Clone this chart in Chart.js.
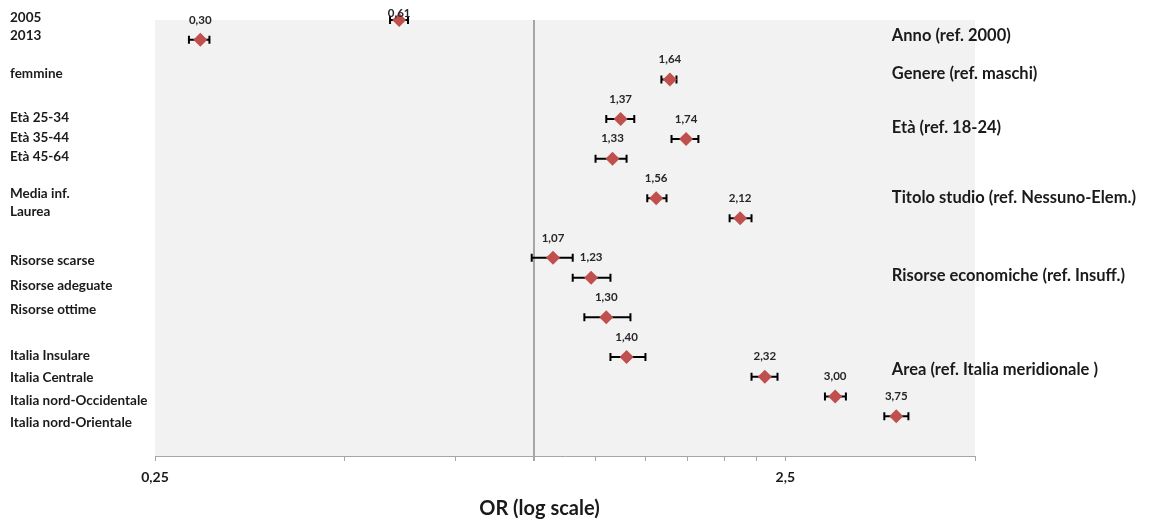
<!DOCTYPE html>
<html>
<head>
<meta charset="utf-8">
<script src="https://cdn.jsdelivr.net/npm/chart.js@4.4.1/dist/chart.umd.min.js"></script>
<style>
  html, body { margin: 0; padding: 0; background: #fff; }
  #wrap { width: 1150px; height: 523px; }
</style>
</head>
<body>
<div id="wrap"><canvas id="chart" width="1150" height="523"></canvas></div>
<script>
// ── Data ─────────────────────────────────────────────────────────────────────
const categories = [
  '2005', '2013', 'femmine', 'Età 25-34', 'Età 35-44', 'Età 45-64',
  'Media inf.', 'Laurea', 'Risorse scarse', 'Risorse adeguate', 'Risorse ottime',
  'Italia Insulare', 'Italia Centrale', 'Italia nord-Occidentale', 'Italia nord-Orientale',
]
// row of each estimate (0 = top row)
const rowPos   = [0, 1, 3, 5, 6, 7, 9, 10, 12, 13, 15, 17, 18, 19, 20]
// row where each category name sits on the left
const labelPos = [-0.14, 0.81, 2.72, 4.91, 5.92, 6.9, 8.74, 9.67, 12.14, 13.42, 14.6, 16.94, 18.03, 19.22, 20.32]
const orValues = [0.61, 0.295, 1.64, 1.37, 1.74, 1.33, 1.56, 2.12, 1.07, 1.23, 1.30, 1.40, 2.32, 3.00, 3.75]
const valueLabels = ['0,61', '0,30', '1,64', '1,37', '1,74', '1,33', '1,56', '2,12', '1,07', '1,23', '1,30', '1,40', '2,32', '3,00', '3,75']
const ciLow    = [0.59, 0.283, 1.59, 1.30, 1.65, 1.25, 1.51, 2.04, 0.99, 1.15, 1.20, 1.32, 2.21, 2.89, 3.59]
const ciHigh   = [0.63, 0.305, 1.68, 1.44, 1.82, 1.40, 1.62, 2.21, 1.15, 1.32, 1.42, 1.50, 2.43, 3.12, 3.92]

const groupLabels = [
  'Anno (ref. 2000)', 'Genere (ref. maschi)', 'Età (ref. 18-24)',
  'Titolo studio (ref. Nessuno-Elem.)', 'Risorse economiche (ref. Insuff.)',
  'Area (ref. Italia meridionale )',
]
const groupPos = [0.77, 2.69, 5.45, 8.98, 12.88, 17.66]
const groupX = 3.69

const xTicks = [0.25, 0.5, 0.75, 1, 1.25, 1.5, 1.75, 2, 2.25, 2.5, 5]
const xTickLabels = { 0.25: '0,25', 2.5: '2,5' }
const axisTitle = 'OR (log scale)'

// ── Style ────────────────────────────────────────────────────────────────────
const FONT = "Lato, 'Open Sans', sans-serif"
const TEXT = '#1a1a1a'
const MARKER = '#c0504d'
const AXIS_GRAY = '#a6a6a6'

Chart.defaults.font.family = FONT
Chart.defaults.color = TEXT

// ── Plugins ──────────────────────────────────────────────────────────────────
const plotBackground = {
  id: 'plotBackground',
  beforeDraw(chart) {
    const { ctx, chartArea: a } = chart
    ctx.save()
    ctx.fillStyle = '#f2f2f2'
    ctx.fillRect(a.left, a.top, a.right - a.left, a.bottom - a.top)
    ctx.restore()
  },
}

const errorBars = {
  id: 'errorBars',
  beforeDatasetsDraw(chart) {
    const { ctx, scales: { x, y } } = chart
    ctx.save()
    ctx.strokeStyle = '#000'
    ctx.lineWidth = 2
    rowPos.forEach((r, i) => {
      const py = y.getPixelForValue(r)
      const x1 = x.getPixelForValue(ciLow[i])
      const x2 = x.getPixelForValue(ciHigh[i])
      ctx.beginPath()
      ctx.moveTo(x1, py); ctx.lineTo(x2, py)
      ctx.moveTo(x1, py - 4); ctx.lineTo(x1, py + 4)
      ctx.moveTo(x2, py - 4); ctx.lineTo(x2, py + 4)
      ctx.stroke()
    })
    ctx.restore()
  },
}

const annotations = {
  id: 'annotations',
  afterDraw(chart) {
    const { ctx, scales: { x, y } } = chart
    ctx.save()
    // value labels above the markers
    ctx.fillStyle = '#262626'
    ctx.font = `bold 11.5px ${FONT}`
    ctx.textAlign = 'center'
    ctx.textBaseline = 'middle'
    rowPos.forEach((r, i) => {
      const px = x.getPixelForValue(orValues[i])
      const py = y.getPixelForValue(r)
      ctx.fillText(valueLabels[i], px, Math.max(py - 20, 13))
    })
    // group labels on the right
    ctx.fillStyle = TEXT
    ctx.font = `bold 16.5px ${FONT}`
    ctx.textAlign = 'left'
    groupLabels.forEach((t, i) => {
      ctx.fillText(t, x.getPixelForValue(groupX), y.getPixelForValue(groupPos[i]))
    })
    // x axis title
    ctx.font = `bold 20px ${FONT}`
    ctx.textAlign = 'center'
    ctx.fillText(axisTitle, x.getPixelForValue(1) + 5, 509)
    ctx.restore()
  },
}

// ── Chart ────────────────────────────────────────────────────────────────────
new Chart(document.getElementById('chart'), {
  type: 'scatter',
  data: {
    datasets: [{
      data: rowPos.map((r, i) => ({ x: orValues[i], y: r })),
      pointStyle: 'rectRot',
      pointRadius: 7,
      backgroundColor: MARKER,
      borderColor: MARKER,
      borderWidth: 0,
      clip: false,
    }],
  },
  options: {
    responsive: false,
    animation: false,
    layout: { padding: { left: 10, right: 175, top: 20, bottom: 0 } },
    plugins: {
      legend: { display: false },
      tooltip: { enabled: false },
    },
    scales: {
      x: {
        type: 'logarithmic',
        min: 0.25,
        max: 5,
        bounds: 'data',
        afterBuildTicks: (scale) => { scale.ticks = xTicks.map(v => ({ value: v })) },
        afterFit: (scale) => { scale.height = 67 },
        ticks: {
          autoSkip: false,
          maxRotation: 0,
          padding: 8,
          color: TEXT,
          font: { size: 14, weight: 'bold' },
          callback: (v) => xTickLabels[v] || '',
        },
        grid: {
          drawOnChartArea: true,
          color: (c) => (c.tick && c.tick.value === 1 ? AXIS_GRAY : 'rgba(0,0,0,0)'),
          lineWidth: (c) => (c.tick && c.tick.value === 1 ? 2 : 1),
          tickColor: AXIS_GRAY,
          tickLength: 5,
        },
        border: { display: true, color: AXIS_GRAY, width: 1 },
      },
      y: {
        type: 'linear',
        reverse: true,
        min: 0,
        max: 22,
        afterBuildTicks: (scale) => { scale.ticks = labelPos.map(v => ({ value: v })) },
        afterFit: (scale) => { scale.width = 145 },
        ticks: {
          autoSkip: false,
          crossAlign: 'far',
          color: TEXT,
          font: { size: 13.5, weight: 'bold' },
          callback: (v, i) => categories[i],
        },
        grid: { display: false },
        border: { display: false },
      },
    },
  },
  plugins: [plotBackground, errorBars, annotations],
})
</script>
</body>
</html>
